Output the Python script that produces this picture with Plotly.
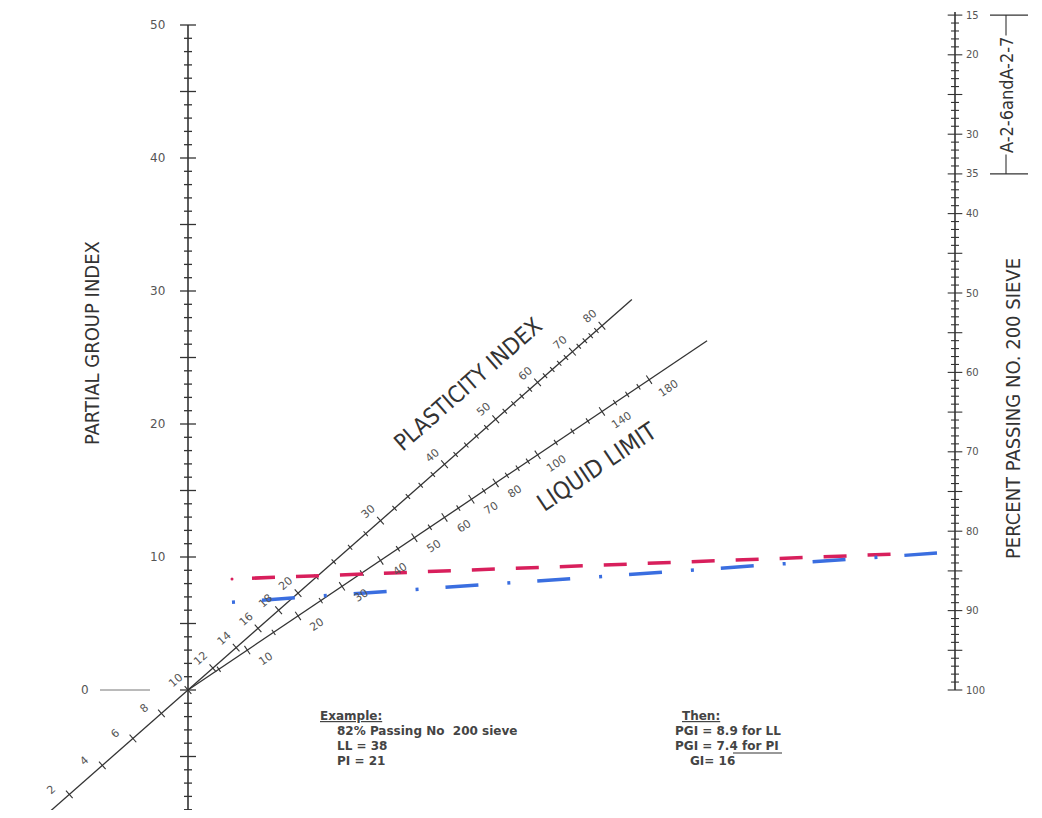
import numpy as np
import plotly.graph_objects as go

# ---------------- data ----------------
pgi_labels = [0, 10, 20, 30, 40, 50]            # partial group index scale
pgi_ticks = list(range(-10, 51))
pct_labels = [15, 20, 30, 35, 40, 50, 60, 70, 80, 90, 100]   # percent passing No.200
pct_ticks = list(range(15, 101))
pi_labels = [0, 2, 4, 6, 8, 10, 12, 14, 16, 18, 20, 30, 40, 50, 60, 70, 80]
pi_ticks = list(range(0, 81, 2))
ll_labels = [10, 20, 30, 40, 50, 60, 70, 80, 100, 140, 180]
ll_ticks = list(range(5, 100, 5)) + list(range(100, 181, 10))
a2_range = [15, 35]                              # A-2-6 and A-2-7 bracket

example_passing = 82.6      # where both example lines meet the right scale
example_red_pgi = 8.35      # red (LL) line level at its left start
example_blue_pgi = 6.6      # blue (PI) line level at its left start
example_lines = ["82% Passing No  200 sieve", "LL = 38", "PI = 21"]
then_lines = ["PGI = 8.9 for LL", "PGI = 7.4 for PI", "GI= 16"]

# ---------------- nomograph geometry ----------------
S = 13.3                    # px per PGI unit
XR = 767 / S                # x of the percent-passing scale
KP = 7.94 / S               # PGI units per 1 % passing
OFF = 8                     # page body margin
FW, FH = 1042 - 2 * OFF, 818 - 2 * OFF
X0PX, Y0PX = 188, 690       # page pixel position of PGI = 0


def dx(px):
    return (px - X0PX) / S


def dy(py):
    return (Y0PX - py) / S


def y_pct(p):
    return (100 - p) * KP


def u_pi(pi):
    v = 0.01 * (pi - 10) / KP
    return v / (1 + v)


def u_ll(ll):
    v = 0.005 * ll / KP
    return v / (1 + v)


PI_DIR = np.array([XR, y_pct(15)])
LL_DIR = np.array([XR, y_pct(35)])


def unit(v):
    return v / np.hypot(*v)


ink = "#333333"
grey = "#555555"
NARROW = "Liberation Sans Narrow, Arial Narrow, DejaVu Sans Condensed, Liberation Sans, sans-serif"
WIDE = "DejaVu Sans, Verdana, sans-serif"

fig = go.Figure()


def seg_trace(xs, ys, width=1.3, color=ink):
    fig.add_trace(go.Scatter(x=xs, y=ys, mode="lines", line=dict(color=color, width=width),
                             hoverinfo="skip", showlegend=False))


# ---- left PGI scale ----
seg_trace([0, 0], [-10, 50], width=1.6)
tx, ty = [], []
for t in pgi_ticks:
    h = 0.6 if t % 5 == 0 else 0.3
    tx += [-h, h, None]
    ty += [t, t, None]
seg_trace(tx, ty, width=1.3)
seg_trace([dx(100), dx(150)], [0, 0], width=1.0, color="#777")

# ---- right percent scale ----
seg_trace([XR, XR], [y_pct(100), y_pct(14.6)], width=1.6)
tx, ty = [], []
for t in pct_ticks:
    h = 0.55 if t % 5 == 0 else 0.3
    tx += [XR - h, XR + h, None]
    ty += [y_pct(t), y_pct(t), None]
seg_trace(tx, ty, width=1.1)
for p in a2_range:
    seg_trace([dx(990), dx(1028)], [y_pct(p), y_pct(p)], width=1.1)
seg_trace([dx(1006), dx(1006)], [y_pct(a2_range[0]), y_pct(a2_range[1])], width=1.1)

# ---- diagonal PI and LL scales ----
for direc, ufun, lo, hi, ticks, labels in [
        (PI_DIR, u_pi, -2, 92, pi_ticks, pi_labels),
        (LL_DIR, u_ll, 0, 250, ll_ticks, ll_labels)]:
    seg_trace([ufun(lo) * direc[0], ufun(hi) * direc[0]],
              [ufun(lo) * direc[1], ufun(hi) * direc[1]], width=1.3)
    d = unit(direc)
    n = np.array([-d[1], d[0]])
    tx, ty = [], []
    for t in ticks:
        p = ufun(t) * direc
        h = 0.38 if t in labels else 0.24
        a, b = p - n * h, p + n * h
        tx += [a[0], b[0], None]
        ty += [a[1], b[1], None]
    seg_trace(tx, ty, width=1.1)

# ---- example lines ----
yR = y_pct(example_passing)
for y0, color, dash, xs_px, xe_px in [
        (example_red_pgi, "#d81f5c", "23px,21px", 252, 893),
        (example_blue_pgi, "#3a6ee0", "3px,27px,33px,29px", 232, 937)]:
    x0 = dx(232)
    xs = np.array([dx(xs_px), dx(xe_px)])
    ys = y0 + (yR - y0) * (xs - x0) / (XR - x0)
    fig.add_trace(go.Scatter(x=xs, y=ys, mode="lines",
                             line=dict(color=color, width=3.5, dash=dash),
                             hoverinfo="skip", showlegend=False))
fig.add_trace(go.Scatter(x=[dx(232)], y=[example_red_pgi], mode="markers",
                         marker=dict(color="#d81f5c", size=3), hoverinfo="skip", showlegend=False))

# ---------------- annotations ----------------
ann = []


def A(x, y, text, size=11, angle=0, xanchor="center", font=WIDE, color=grey, ref="data",
      bg=None, weight="normal"):
    d = dict(x=x, y=y, text=text, showarrow=False, textangle=angle, xanchor=xanchor,
             yanchor="middle", font=dict(family=font, size=size, color=color, weight=weight))
    if ref == "paper":
        d.update(xref="paper", yref="paper")
    if bg:
        d.update(bgcolor=bg, borderpad=1)
    ann.append(d)


def P(px, py):
    return (px - OFF) / FW, 1 - (py - OFF) / FH


for v in pgi_labels:
    if v == 0:
        A(dx(85), 0, "0", size=12)
    else:
        A(dx(167), v, str(v), size=12, xanchor="right")
for v in pct_labels:
    A(dx(964), y_pct(v), str(v), size=10, xanchor="left")

pi_ang = -np.degrees(np.arctan2(PI_DIR[1], PI_DIR[0]))
ll_ang = -np.degrees(np.arctan2(LL_DIR[1], LL_DIR[0]))
d = unit(PI_DIR)
n = np.array([-d[1], d[0]])
for v in pi_labels:
    along = -10 if v < 10 else -3
    p = u_pi(v) * PI_DIR + n * (15 / S) + d * (along / S)
    A(p[0], p[1], str(v), size=11, angle=pi_ang)
d = unit(LL_DIR)
n = np.array([-d[1], d[0]])
for v in ll_labels:
    p = u_ll(v) * LL_DIR - n * (18 / S) + d * (11 / S)
    A(p[0], p[1], str(v), size=11, angle=ll_ang)

# axis titles
x, y = P(92, 343)
A(x, y, "PARTIAL GROUP INDEX", size=20, angle=-90, font=NARROW, color=ink, ref="paper")
x, y = P(1013, 409)
A(x, y, "PERCENT PASSING NO. 200 SIEVE", size=20, angle=-90, font=NARROW, color=ink, ref="paper")
x, y = P(1007, 95)
A(x, y, "A-2-6andA-2-7", size=18, angle=-90, font=NARROW, color=ink, ref="paper", bg="white")
x, y = P(468, 384)
A(x, y, "PLASTICITY INDEX", size=23, angle=pi_ang, font=NARROW, color=ink, ref="paper")
x, y = P(597, 467)
A(x, y, "LIQUID LIMIT", size=24, angle=ll_ang, font=NARROW, color=ink, ref="paper")

# example block
x, y = P(318, 716)
A(x, y, "<u>Example:</u>", size=12, xanchor="left", color="#444", ref="paper", weight="bold")
for i, t in enumerate(example_lines):
    x, y = P(335, 731 + 15 * i)
    A(x, y, t, size=12, xanchor="left", color="#444", ref="paper", weight="bold")
x, y = P(680, 716)
A(x, y, "<u>Then:</u>", size=12, xanchor="left", color="#444", ref="paper", weight="bold")
for i, t in enumerate(then_lines):
    x, y = P(673 if i < 2 else 688, 731 + 15 * i)
    A(x, y, t, size=12, xanchor="left", color="#444", ref="paper", weight="bold")

x0, y0 = P(733, 753)
x1, _ = P(782, 753)
fig.add_shape(type="line", xref="paper", yref="paper", x0=x0, x1=x1, y0=y0, y1=y0,
              line=dict(color="#333", width=1))

fig.update_layout(
    width=FW, height=FH, margin=dict(l=0, r=0, t=0, b=0),
    paper_bgcolor="white", plot_bgcolor="white",
    xaxis=dict(range=[dx(OFF), dx(OFF + FW)], visible=False, fixedrange=True),
    yaxis=dict(range=[dy(OFF + FH), dy(OFF)], visible=False, fixedrange=True),
    annotations=ann, showlegend=False,
)

fig.write_html("out.html")
